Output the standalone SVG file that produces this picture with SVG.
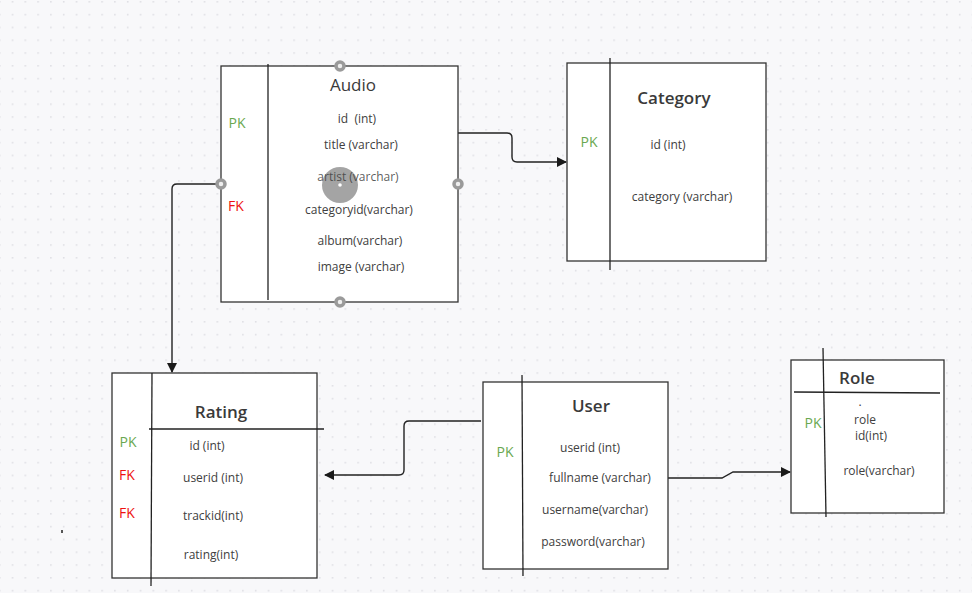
<svg xmlns="http://www.w3.org/2000/svg" width="972" height="593" viewBox="0 0 972 593">
<defs>
<pattern id="grid" x="11.7" y="1" width="12.8" height="12.8" patternUnits="userSpaceOnUse">
<rect x="0" y="0" width="1.6" height="1.6" fill="#dfdfe4"/>
</pattern>
<marker id="arr" viewBox="0 0 10 10" refX="9" refY="5" markerWidth="10" markerHeight="10" markerUnits="userSpaceOnUse" orient="auto">
<path d="M0,0 L10,5 L0,10 z" fill="#1a1a1a"/>
</marker>
</defs>
<style>
.box{fill:#ffffff;stroke:#333333;stroke-width:1.3}
.ln{stroke:#222222;stroke-width:1.3;fill:none}
.conn{stroke:#222222;stroke-width:1.4;fill:none}
.t{font-family:"Open Sans","Noto Sans",sans-serif;font-size:17px;fill:#3a3a3a;text-anchor:middle}
.tb{font-weight:600}
.f{font-family:"Open Sans","Noto Sans",sans-serif;font-size:12px;fill:#404040;text-anchor:middle;white-space:pre}
.pk{font-family:"Open Sans","Noto Sans",sans-serif;font-size:14px;fill:#6aa84f;text-anchor:middle}
.fk{font-family:"Open Sans","Noto Sans",sans-serif;font-size:14px;fill:#ee1111;text-anchor:middle}
.h{fill:#eeeeee;stroke:#9a9a9a;stroke-width:3.5}
</style>
<rect width="972" height="593" fill="#f8f8fa"/>
<rect width="972" height="593" fill="url(#grid)"/>
<rect x="61" y="530" width="2" height="3" fill="#555"/>

<g id="connectors">
<path class="conn" d="M458,133 H507 Q512,133 512,138 V157 Q512,162 517,162 H566" marker-end="url(#arr)"/>
<path class="conn" d="M221,184 H177 Q172,184 172,189 V372" marker-end="url(#arr)"/>
<path class="conn" d="M481,421 H409 Q404,421 404,426 V470 Q404,475 399,475 H325" marker-end="url(#arr)"/>
<path class="conn" d="M668,478 H722 L733,472 H790" marker-end="url(#arr)"/>
</g>

<g id="audio">
<rect class="box" x="221" y="66" width="237" height="236"/>
<line class="ln" x1="268" y1="64" x2="268" y2="300"/>
<text class="t" x="353" y="91">Audio</text>
<text class="pk" x="237" y="128">PK</text>
<text class="fk" x="236" y="211">FK</text>
<circle cx="340" cy="185" r="18" fill="#9a9a9a" fill-opacity="0.9"/>
<circle cx="340" cy="185" r="1.8" fill="#ffffff"/>
<text class="f" x="357" y="123" xml:space="preserve">id  (int)</text>
<text class="f" x="361" y="149">title (varchar)</text>
<text class="f" x="358" y="181" fill-opacity="0.85">artist (varchar)</text>
<text class="f" x="359" y="214">categoryid(varchar)</text>
<text class="f" x="360" y="245">album(varchar)</text>
<text class="f" x="361" y="271">image (varchar)</text>
<circle class="h" cx="340" cy="66" r="4"/>
<circle class="h" cx="221" cy="184" r="4"/>
<circle class="h" cx="458" cy="184" r="4"/>
<circle class="h" cx="340" cy="302" r="4"/>
</g>

<g id="category">
<rect class="box" x="567" y="63" width="199" height="198"/>
<line class="ln" x1="610" y1="58" x2="610" y2="270"/>
<text class="t tb" x="674" y="104">Category</text>
<text class="pk" x="589" y="147">PK</text>
<text class="f" x="668" y="149">id (int)</text>
<text class="f" x="682" y="201">category (varchar)</text>
</g>

<g id="rating">
<rect class="box" x="112" y="373" width="205" height="205"/>
<line class="ln" x1="152" y1="373" x2="151" y2="586"/>
<line class="ln" x1="149" y1="429" x2="324" y2="429"/>
<text class="t tb" x="221" y="418">Rating</text>
<text class="pk" x="128" y="447">PK</text>
<text class="fk" x="127" y="480">FK</text>
<text class="fk" x="127" y="518">FK</text>
<text class="f" x="207" y="450">id (int)</text>
<text class="f" x="213" y="482">userid (int)</text>
<text class="f" x="213" y="520">trackid(int)</text>
<text class="f" x="211" y="559">rating(int)</text>
</g>

<g id="user">
<rect class="box" x="483" y="382" width="185" height="187"/>
<line class="ln" x1="522" y1="375" x2="523" y2="576"/>
<text class="t tb" x="591" y="412">User</text>
<text class="pk" x="505" y="457">PK</text>
<text class="f" x="590" y="452">userid (int)</text>
<text class="f" x="600" y="482">fullname (varchar)</text>
<text class="f" x="595" y="514">username(varchar)</text>
<text class="f" x="593" y="546">password(varchar)</text>
</g>

<g id="role">
<rect class="box" x="791" y="360" width="153" height="153"/>
<line class="ln" x1="823" y1="348" x2="826" y2="517"/>
<line class="ln" x1="794" y1="392" x2="940" y2="393"/>
<text class="t tb" x="857" y="384">Role</text>
<text class="pk" x="813" y="428">PK</text>
<text class="f" x="860" y="406">.</text>
<text class="f" x="865" y="424">role</text>
<text class="f" x="871" y="440">id(int)</text>
<text class="f" x="879" y="475">role(varchar)</text>
</g>
</svg>
